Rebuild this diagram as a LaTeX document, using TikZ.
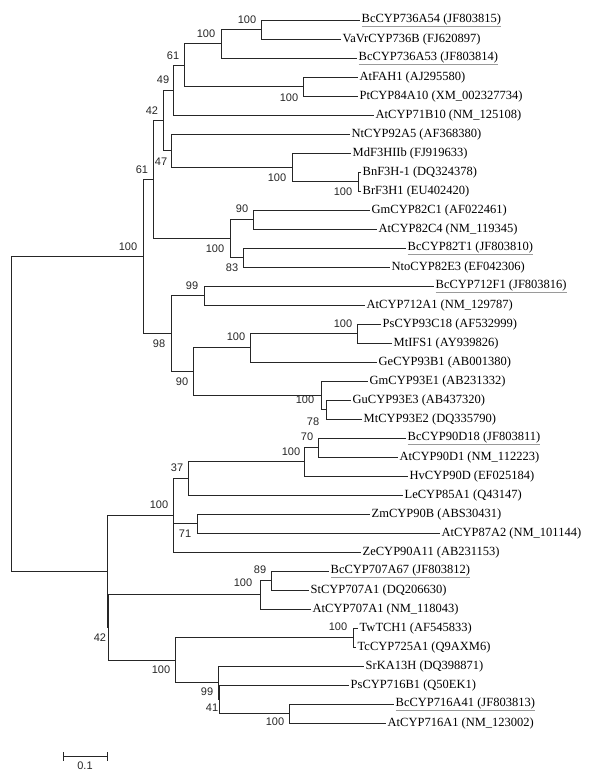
\documentclass[tikz,border=0pt]{standalone}
\usepackage{fontspec}
\setmainfont{Liberation Serif}
\newfontfamily\bootfont{Liberation Sans}
\usepackage{tikz}
\usetikzlibrary{positioning,calc}
\usepackage{xcolor}
\definecolor{branchgray}{HTML}{262626}
\definecolor{ulgray}{HTML}{9A9A9A}
\newcommand{\ulname}[1]{\textcolor{ulgray}{\underline{\textcolor{black}{#1}}}}
\tikzset{
  branch/.style={draw=branchgray,line width=0.75pt},
  leaf/.style={anchor=west,inner xsep=2pt,inner ysep=0pt,
    font=\fontsize{12.5}{14}\selectfont},
  boot/.style={inner sep=0pt,font=\bootfont\fontsize{11}{12}\selectfont,text=black!85},
  scalebar/.style={draw=branchgray,line width=0.75pt}
}

\begin{document}
\begin{tikzpicture}[x=1pt,y=-1pt]
\useasboundingbox (0,0) rectangle (600,779);
\foreach \x/\t [count=\i] in {
    359.5/\ulname{BcCYP736A54 (JF803815)},
    340.5/VaVrCYP736B (FJ620897),
    356.5/\ulname{BcCYP736A53 (JF803814)},
    357.5/AtFAH1 (AJ295580),
    357.5/PtCYP84A10 (XM\_002327734),
    373.5/AtCYP71B10 (NM\_125108),
    349.5/NtCYP92A5 (AF368380),
    350.5/MdF3HIIb (FJ919633),
    360.5/BnF3H-1 (DQ324378),
    360.5/BrF3H1 (EU402420),
    369.5/GmCYP82C1 (AF022461),
    376.5/AtCYP82C4 (NM\_119345),
    405.5/\ulname{BcCYP82T1 (JF803810)},
    389.5/NtoCYP82E3 (EF042306),
    433.5/\ulname{BcCYP712F1 (JF803816)},
    364.5/AtCYP712A1 (NM\_129787),
    380.5/PsCYP93C18 (AF532999),
    391.5/MtIFS1 (AY939826),
    376.5/GeCYP93B1 (AB001380),
    367.5/GmCYP93E1 (AB231332),
    350.5/GuCYP93E3 (AB437320),
    361.5/MtCYP93E2 (DQ335790),
    405.5/\ulname{BcCYP90D18 (JF803811)},
    397.5/AtCYP90D1 (NM\_112223),
    407.5/HvCYP90D (EF025184),
    402.5/LeCYP85A1 (Q43147),
    369.5/ZmCYP90B (ABS30431),
    439.5/AtCYP87A2 (NM\_101144),
    360.5/ZeCYP90A11 (AB231153),
    328.5/\ulname{BcCYP707A67 (JF803812)},
    308.5/StCYP707A1 (DQ206630),
    310.5/AtCYP707A1 (NM\_118043),
    357.5/TwTCH1 (AF545833),
    355.5/TcCYP725A1 (Q9AXM6),
    363.5/SrKA13H (DQ398871),
    348.5/PsCYP716B1 (Q50EK1),
    393.5/\ulname{BcCYP716A41 (JF803813)},
    385.5/AtCYP716A1 (NM\_123002)}
  \node[leaf] (l\i) at (\x,{20+19*(\i-1)}) {\t};

\coordinate (a1) at (261,29.5);
\coordinate (a2) at (221,43.75);
\coordinate (a3) at (303,86.5);
\coordinate (a4) at (184,65.1);
\coordinate (a5) at (173,90.1);
\coordinate (a6) at (358,181.5);
\coordinate (a7) at (292,167.25);
\coordinate (a8) at (171,150.6);
\coordinate (a9) at (163,120.3);
\coordinate (b1) at (253,219.5);
\coordinate (b2) at (243,257.5);
\coordinate (b3) at (230,238.5);
\coordinate (b4) at (153,179.4);
\coordinate (b5) at (143,256.4);
\coordinate (c1) at (204,295.5);
\coordinate (c2) at (357,333.5);
\coordinate (c3) at (250,347.75);
\coordinate (c4) at (326,409.5);
\coordinate (c5) at (321,395.25);
\coordinate (c6) at (193,371.5);
\coordinate (c7) at (171,333.5);
\coordinate (d1) at (318,447.5);
\coordinate (d2) at (304,461.75);
\coordinate (d3) at (188,478.4);
\coordinate (d4) at (197,523.5);
\coordinate (d5) at (173,515.2);
\coordinate (e1) at (271,580.5);
\coordinate (e2) at (260,594.75);
\coordinate (e3) at (353,637.5);
\coordinate (e4) at (289,713.5);
\coordinate (e5) at (219,699.25);
\coordinate (e6) at (218,682.6);
\coordinate (e7) at (175,660);
\coordinate (e8) at (108,627.4);
\coordinate (e9) at (107,571.3);
\coordinate (root) at (11,413.9);

\foreach \p/\c in {a1/l1,a1/l2,a2/a1,a2/l3,a3/l4,a3/l5,a4/a2,a4/a3,a5/a4,a5/l6,
    a6/l9,a6/l10,a7/l8,a7/a6,a8/l7,a8/a7,a9/a5,a9/a8,
    b1/l11,b1/l12,b2/l13,b2/l14,b3/b1,b3/b2,b4/a9,b4/b3,
    c1/l15,c1/l16,c2/l17,c2/l18,c3/c2,c3/l19,c4/l21,c4/l22,c5/l20,c5/c4,
    c6/c3,c6/c5,c7/c1,c7/c6,b5/b4,b5/c7,
    d1/l23,d1/l24,d2/d1,d2/l25,d3/d2,d3/l26,d4/l27,d4/l28,d5/d3,d5/d4,d5/l29,
    e1/l30,e1/l31,e2/e1,e2/l32,e3/l33,e3/l34,e4/l37,e4/l38,e5/l36,e5/e4,
    e6/l35,e6/e5,e7/e3,e7/e6,e8/e2,e8/e7,e9/d5,e9/e8,root/b5,root/e9}
  \draw[branch] (\p) |- (\c);

\foreach \x/\y/\v [count=\i] in {247/20/100,206/34/100,173/56/61,163/80/49,289/98/100,
    152/111/42,161/162/47,142/170/61,277/178/100,343/192/100,
    242/209/90,128/247/100,215/249/100,232/268/83,192/286/99,
    343/324/100,236/337/100,159/344/98,182/382/90,305/400/100,313/422/78,
    307/437/70,291/452/100,177/468/37,159/505/100,185/534/71,
    260/570/89,243/583/100,338/627/100,100/638/42,161/670/100,
    207/692/99,212/708/41,275/722/100}
  \node[boot] (bs\i) at (\x,\y) {\v};

\coordinate (sbl) at (63,756);
\coordinate (sbr) at (107,756);
\draw[scalebar] (sbl) -- (sbr);
\draw[scalebar] ([yshift=-4.5pt]sbl) -- ([yshift=4.5pt]sbl);
\draw[scalebar] ([yshift=-4.5pt]sbr) -- ([yshift=4.5pt]sbr);
\node[boot,below=6pt of $(sbl)!0.5!(sbr)$] (sbtext) {0.1};
\end{tikzpicture}
\end{document}
